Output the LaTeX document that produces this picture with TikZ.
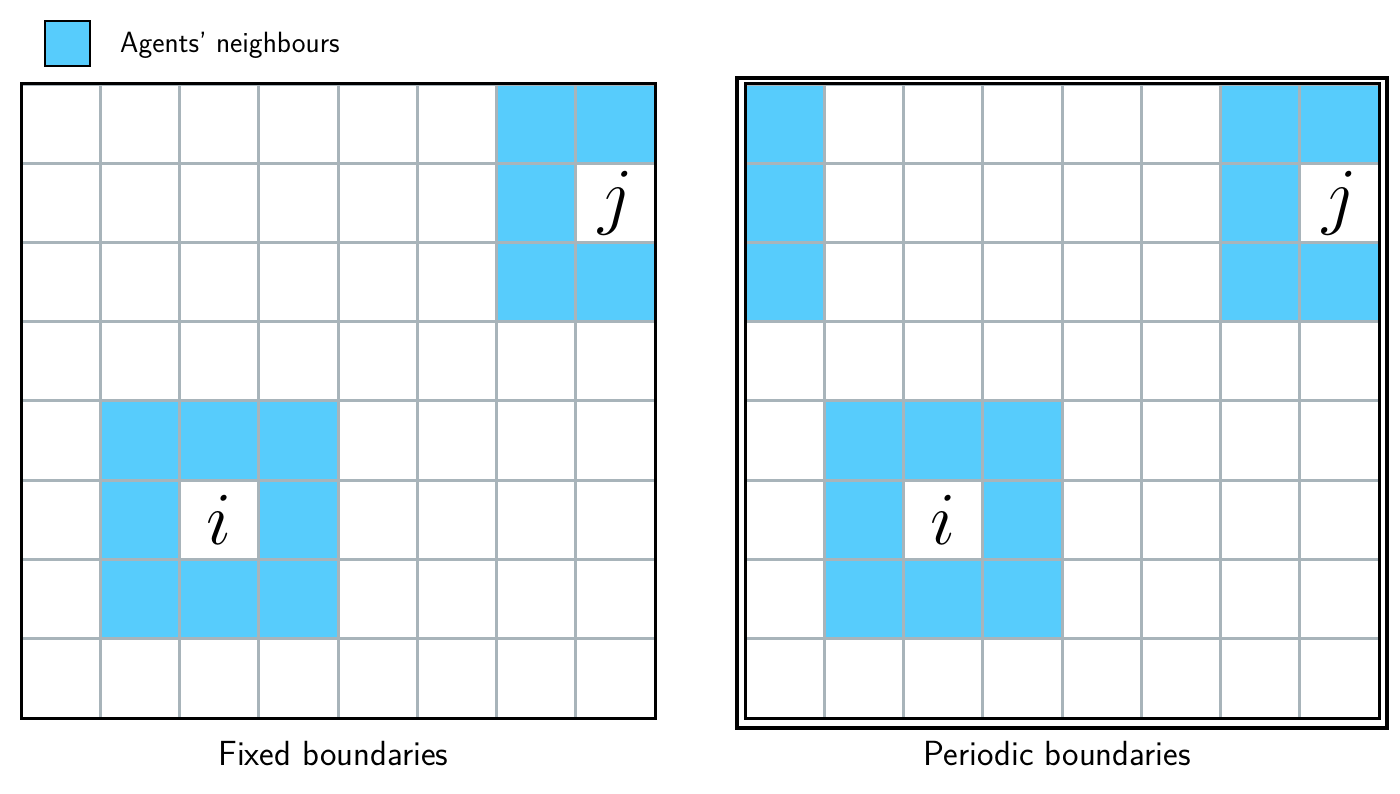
\RequirePackage{fix-cm}
\documentclass[tikz,border=0pt]{standalone}
\usepackage{tikz}
\usetikzlibrary{positioning}
\renewcommand{\familydefault}{\sfdefault}
\definecolor{nbr}{RGB}{87,204,252}
\definecolor{gridgrey}{RGB}{168,180,186}

\begin{document}
\begin{tikzpicture}[x=0.3mm,y=0.3mm,
  nbrcell/.style={fill=nbr},
  gridlines/.style={draw=gridgrey,line width=0.9mm,step={(1,1)}},
  frame/.style={draw=black,line width=0.9mm},
  agent/.style={font=\fontsize{64}{64}\selectfont},
  caption/.style={font=\fontsize{29.8}{32}\selectfont,anchor=base},
  legtext/.style={font=\fontsize{25}{28}\selectfont,anchor=base west,inner sep=0pt}]
\useasboundingbox (0,0) rectangle (1400,793);
% legend
\node[draw,fill=nbr,line width=0.6mm,minimum size=13.5mm,inner sep=0pt] (legbox) at (67.5,749.5) {};
\node[legtext] (legtxt) at (120,740) {Agents' neighbours};
% fixed boundaries
\begin{scope}[shift={(21,75)},x=23.775mm,y=23.775mm]
  \foreach \c/\r in {1/1,2/1,3/1,1/2,3/2,1/3,2/3,3/3,6/5,7/5,6/6,6/7,7/7}
    \fill[nbrcell] (\c,\r) rectangle ++(1,1);
  \draw[gridlines] (0,0) grid (8,8);
  \draw[frame] (0,0) rectangle (8,8);
  \node[agent] (iL) at (2.5,2.5) {$i$};
  \node[agent] (jL) at (7.5,6.5) {$j$};
  \node[caption] (fixedlab) at (3.94,-0.6) {Fixed boundaries};
\end{scope}
% periodic boundaries
\begin{scope}[shift={(745,75)},x=23.775mm,y=23.775mm]
  \foreach \c/\r in {1/1,2/1,3/1,1/2,3/2,1/3,2/3,3/3,6/5,7/5,6/6,6/7,7/7,0/5,0/6,0/7}
    \fill[nbrcell] (\c,\r) rectangle ++(1,1);
  \draw[gridlines] (0,0) grid (8,8);
  \draw[frame] (0,0) rectangle (8,8);
  \draw[black,line width=1.2mm] (-0.1,-0.12) rectangle (8.1,8.08);
  \node[agent] (iR) at (2.5,2.5) {$i$};
  \node[agent] (jR) at (7.5,6.5) {$j$};
  \node[caption] (periodiclab) at (3.94,-0.6) {Periodic boundaries};
\end{scope}
\end{tikzpicture}
\end{document}
